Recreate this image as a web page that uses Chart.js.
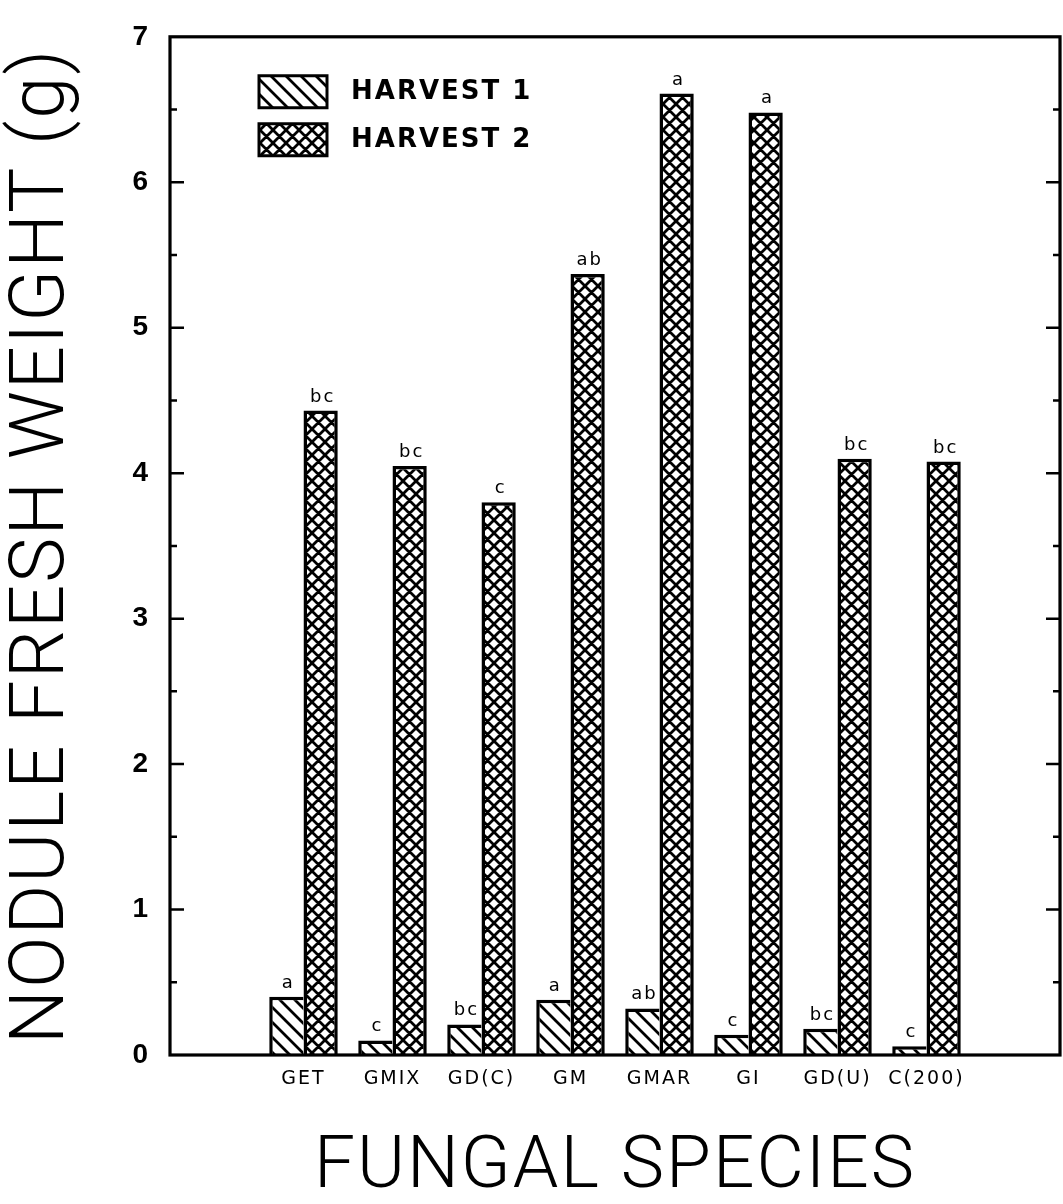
<!DOCTYPE html>
<html>
<head>
<meta charset="utf-8">
<script src="https://cdn.jsdelivr.net/npm/chart.js@4.4.1/dist/chart.umd.min.js"></script>
<style>
  html, body { margin: 0; padding: 0; background: #fff; }
</style>
</head>
<body>
<canvas id="myChart" width="1063" height="1204"></canvas>
<script>
// fungal species on the x axis
const categories = ['GET', 'GMIX', 'GD(C)', 'GM', 'GMAR', 'GI', 'GD(U)', 'C(200)'];
// nodule fresh weight (g)
const harvest1 = [0.40, 0.10, 0.21, 0.38, 0.32, 0.14, 0.18, 0.06];
const harvest2 = [4.43, 4.05, 3.80, 5.37, 6.61, 6.48, 4.10, 4.08];
// significance letters over the bars
const harvest1Letters = ['a', 'c', 'bc', 'a', 'ab', 'c', 'bc', 'c'];
const harvest2Letters = ['bc', 'bc', 'c', 'ab', 'a', 'a', 'bc', 'bc'];
const yTicks = [0, 1, 2, 3, 4, 5, 6, 7];

function hatch(size, cross) {
  const c = document.createElement('canvas');
  c.width = size; c.height = size;
  const g = c.getContext('2d');
  g.fillStyle = '#fff';
  g.fillRect(0, 0, size, size);
  g.strokeStyle = '#000';
  g.lineWidth = 2.8;
  g.beginPath();
  for (const k of [-size, 0, size]) {
    g.moveTo(k - size, -size); g.lineTo(k + 2 * size, 2 * size);
    if (cross) {
      const c2 = k + size;
      g.moveTo(c2 + size, -size); g.lineTo(c2 - 2 * size, 2 * size);
    }
  }
  g.stroke();
  return g.createPattern(c, 'repeat');
}

// the old plotter spaces its letters out a bit
const spacing = {
  id: 'spacing',
  beforeUpdate(chart) { chart.ctx.letterSpacing = '2px'; },
  beforeDraw(chart) { chart.ctx.letterSpacing = '2px'; }
};

const lettersPlugin = {
  id: 'letters',
  afterDatasetsDraw(chart) {
    const ctx = chart.ctx;
    ctx.save();
    ctx.font = '18px "DejaVu Sans"';
    ctx.letterSpacing = '2px';
    ctx.fillStyle = '#000';
    ctx.textAlign = 'center';
    ctx.textBaseline = 'alphabetic';
    [harvest1Letters, harvest2Letters].forEach((letters, d) => {
      chart.getDatasetMeta(d).data.forEach((bar, i) => {
        ctx.fillText(letters[i], bar.x + 2, bar.y - 9);
      });
    });
    ctx.restore();
  }
};

const framePlugin = {
  id: 'frame',
  afterDatasetsDraw(chart) {
    const { ctx, chartArea: a, scales: { y } } = chart;
    ctx.save();
    ctx.strokeStyle = '#000';
    ctx.lineWidth = 3.2;
    ctx.strokeRect(a.left, a.top, a.right - a.left, a.bottom - a.top);
    ctx.lineWidth = 2.5;
    ctx.beginPath();
    for (let v = y.min + 0.5; v < y.max; v += 0.5) {
      const py = y.getPixelForValue(v);
      const len = Number.isInteger(v) ? 14 : 7;
      ctx.moveTo(a.left, py); ctx.lineTo(a.left + len, py);
      ctx.moveTo(a.right, py); ctx.lineTo(a.right - len, py);
    }
    ctx.stroke();
    ctx.restore();
  }
};

// move the legend inside the plot, top left
const legendPlace = {
  id: 'legendPlace',
  afterLayout(chart) {
    const lg = chart.legend, a = chart.chartArea;
    lg.left = a.left + 73;
    lg.top = a.top + 23;
    lg.right = a.right;
    lg.bottom = a.bottom;
  }
};

const ctx = document.getElementById('myChart');

new Chart(ctx, {
  type: 'bar',
  data: {
    datasets: [{
      label: 'HARVEST 1',
      data: harvest1.map((v, i) => ({ x: i + 1, y: v })),
      backgroundColor: hatch(15, false),
      borderColor: '#000',
      borderWidth: { top: 3.5, left: 3.5, right: 0, bottom: 0 },
      borderSkipped: 'bottom'
    }, {
      label: 'HARVEST 2',
      data: harvest2.map((v, i) => ({ x: i + 1, y: v })),
      backgroundColor: hatch(13, true),
      borderColor: '#000',
      borderWidth: { top: 3.5, left: 3.5, right: 3.5, bottom: 0 },
      borderSkipped: 'bottom'
    }]
  },
  options: {
    responsive: false,
    animation: false,
    barPercentage: 1,
    categoryPercentage: 0.77,
    layout: { padding: { top: 23, right: 3, left: 0, bottom: 0 } },
    plugins: {
      tooltip: { enabled: false },
      legend: {
        position: 'chartArea',
        align: 'start',
        labels: {
          boxWidth: 68,
          boxHeight: 32,
          padding: 16,
          color: '#000',
          font: { family: '"DejaVu Sans"', size: 26, weight: 'bold' },
          generateLabels(chart) {
            const items = Chart.defaults.plugins.legend.labels.generateLabels(chart);
            return items.map(it => ({ ...it, text: ' ' + it.text, lineWidth: 3, strokeStyle: '#000' }));
          }
        }
      }
    },
    scales: {
      x: {
        type: 'linear',
        min: 0,
        max: categories.length + 1,
        grid: { display: false, drawTicks: false },
        border: { display: false },
        afterFit(scale) { scale.height = 149; },
        ticks: {
          stepSize: 1,
          autoSkip: false,
          maxRotation: 0,
          padding: 13,
          color: '#000',
          font: { family: '"DejaVu Sans"', size: 19 },
          callback: (v) => categories[v - 1] || ''
        },
        title: {
          display: true,
          text: 'FUNGAL SPECIES',
          color: '#000',
          font: { family: 'Roboto', size: 73, weight: 300, lineHeight: 0.9 },
          padding: { top: 0, bottom: 2 }
        }
      },
      y: {
        min: yTicks[0],
        max: yTicks[yTicks.length - 1],
        grid: { display: false, drawTicks: false },
        border: { display: false },
        afterFit(scale) { scale.width = 170; },
        afterBuildTicks(scale) { scale.ticks = yTicks.map(v => ({ value: v })); },
        ticks: {
          padding: 20,
          color: '#000',
          font: { family: '"Liberation Sans"', size: 28, weight: 'bold' }
        },
        title: {
          display: true,
          text: 'NODULE FRESH WEIGHT (g)',
          color: '#000',
          font: { family: 'Roboto', size: 76, weight: 300, lineHeight: 1 },
          padding: { top: 6, bottom: 0 }
        }
      }
    }
  },
  plugins: [spacing, lettersPlugin, framePlugin, legendPlace]
});
</script>
</body>
</html>
